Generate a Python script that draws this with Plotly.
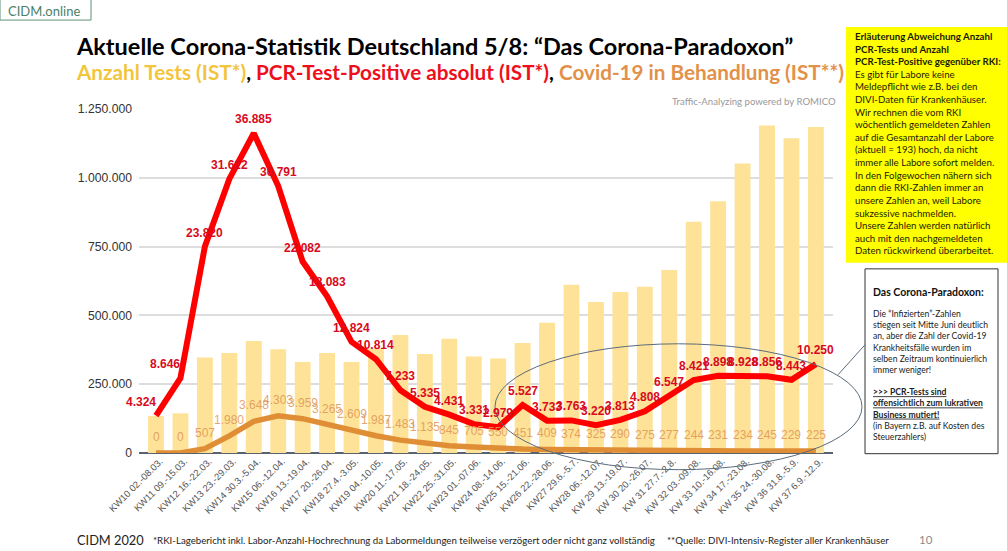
import plotly.graph_objects as go

# Kalenderwochen
weeks = [
    "KW10 02.-08.03.", "KW11 09.-15.03.", "KW12 16.-22.03.", "KW13 23.-29.03.",
    "KW14 30.3.-5.04.", "KW15 06.-12.04.", "KW16 13.-19.04.", "KW17 20.-26.04.",
    "KW18 27.4.-3.05.", "KW19 04.-10.05.", "KW20 11.-17.05.", "KW21 18.-24.05.",
    "KW22 25.-31.05.", "KW23 01.-07.06.", "KW24 08.-14.06.", "KW25 15.-21.06.",
    "KW26 22.-28.06.", "KW27 29.6.-5.7.", "KW28 06.-12.07.", "KW 29 13.-19.07.",
    "KW 30 20.-26.07.", "KW 31 27.7.-2.8.", "KW 32 03.-09.08.", "KW 33 10.-16.08.",
    "KW 34 17.-23.08.", "KW 35 24.-30.08.", "KW 36 31.8.-5.9.", "KW 37 6.9.-12.9.",
]
tests = [
    135000, 144000, 347000, 363000, 407000, 377000, 331000, 363000, 331000, 380000,
    429000, 360000, 415000, 351000, 343000, 400000, 473000, 611000, 549000, 585000,
    604000, 665000, 840000, 915000, 1052000, 1190000, 1144000, 1185000,
]
positive = [
    4324, 8646, 23820, 31622, 36885, 30791, 22082, 18083, 12824, 10814, 7233, 5335,
    4431, 3331, 2979, 5527, 3733, 3763, 3220, 3813, 4808, 6547, 8421, 8898, 8928,
    8856, 8443, 10250,
]
treated = [
    0, 0, 507, 1980, 3648, 4303, 3959, 3265, 2609, 1987, 1483, 1135, 845, 705, 550,
    451, 409, 374, 325, 290, 275, 277, 244, 231, 234, 245, 229, 225,
]
y_ticks = [0, 250000, 500000, 750000, 1000000, 1250000]
y_tick_labels = ["0", "250.000", "500.000", "750.000", "1.000.000", "1.250.000"]

# the two lines share the test axis, drawn at a fixed factor
LINE_FACTOR = 31.5

SANS = "Lato, Carlito, sans-serif"
CHART = "Liberation Sans, Arial, sans-serif"


def dotted(n):
    return f"{n:,}".replace(",", ".")


x = list(range(len(weeks)))

fig = go.Figure()
fig.add_trace(go.Bar(x=x, y=tests, width=0.65, marker=dict(color="#fde298", line_width=0)))
fig.add_trace(go.Scatter(
    x=x, y=[v * LINE_FACTOR for v in treated], mode="lines",
    line=dict(color="#e08e35", width=5.5),
))
fig.add_trace(go.Scatter(
    x=x, y=[v * LINE_FACTOR for v in positive], mode="lines",
    line=dict(color="#ff0000", width=6),
))

annotations = []
for i, v in enumerate(treated):
    annotations.append(dict(
        x=i, y=v * LINE_FACTOR, text=dotted(v), showarrow=False, yshift=16,
        font=dict(family=CHART, size=12, color="rgba(222,150,85,0.85)"),
    ))
for i, v in enumerate(positive):
    annotations.append(dict(
        x=i, y=v * LINE_FACTOR, text=f"<b>{dotted(v)}</b>", showarrow=False, yshift=14,
        xshift=-15 if i < 2 else 0,
        font=dict(family=CHART, size=12, color="#d80a20"),
    ))


def note(px, py, text, size, color="#222222", family=SANS, align="left", anchor="left"):
    annotations.append(dict(
        xref="paper", yref="paper", x=(px - 139) / 694, y=(453.3 - py) / 344.3,
        text=text, showarrow=False, align=align, xanchor=anchor, yanchor="top",
        font=dict(family=family, size=size, color=color), borderpad=0,
    ))


note(75, 31, "<b>Aktuelle Corona-Statistik Deutschland 5/8: “Das Corona-Paradoxon”</b>", 23.5, "#000000")
note(75, 59, "<b><span style='color:#f2c53d'>Anzahl Tests (IST*)</span>, "
     "<span style='color:#ee0f1c'>PCR-Test-Positive absolut (IST*)</span>, "
     "<span style='color:#e2914a'>Covid-19 in Behandlung (IST**)</span></b>", 20.7, "#000000")
note(671, 95, "Traffic-Analyzing powered by ROMICO", 9.6, "#999999")
note(7, 2, "CIDM.online", 13, "#4a8068")
note(76, 531, "CIDM 2020", 12.8, "#222222")
note(152, 533, "*RKI-Lagebericht inkl. Labor-Anzahl-Hochrechnung da Labormeldungen teilweise "
     "verzögert oder nicht ganz vollständig", 9.7, "#222222")
note(666, 533, "**Quelle: DIVI-Intensiv-Register aller Krankenhäuser", 9.7, "#222222")
note(918, 532, "10", 11.5, "#8a8a8a")
note(854, 29, "<b>Erläuterung Abweichung Anzahl<br>PCR-Tests und Anzahl<br>"
     "PCR-Test-Positive gegenüber RKI:</b><br>Es gibt für Labore keine<br>"
     "Meldepflicht wie z.B. bei den<br>DIVI-Daten für Krankenhäuser.<br>"
     "Wir rechnen die vom RKI<br>wöchentlich gemeldeten Zahlen<br>"
     "auf die Gesamtanzahl der Labore<br>(aktuell = 193) hoch, da nicht<br>"
     "immer alle Labore sofort melden.<br>In den Folgewochen nähern sich<br>"
     "dann die RKI-Zahlen immer an<br>unsere Zahlen an, weil Labore<br>"
     "sukzessive nachmelden.<br>Unsere Zahlen werden natürlich<br>"
     "auch mit den nachgemeldeten<br>Daten rückwirkend überarbeitet.", 9.7, "#1a1a00")
note(872, 285, "<b>Das Corona-Paradoxon:</b>", 10.5, "#111111")
note(872, 308, "Die “Infizierten”-Zahlen<br>stiegen seit Mitte Juni deutlich<br>"
     "an, aber die Zahl der Covid-19<br>Krankheitsfälle wurden im<br>"
     "selben Zeitraum kontinuierlich<br>immer weniger!<br><br>"
     "<b><u>&gt;&gt;&gt; PCR-Tests sind</u><br><u>offensichtlich zum lukrativen</u><br>"
     "<u>Business mutiert!</u></b><br>(in Bayern z.B. auf Kosten des<br>Steuerzahlers)",
     8.6, "#222222")


def paper_shape(kind, x0, y0, x1, y1, **kw):
    return dict(
        type=kind, xref="paper", yref="paper",
        x0=(x0 - 139) / 694, x1=(x1 - 139) / 694,
        y0=(453.3 - y0) / 344.3, y1=(453.3 - y1) / 344.3, **kw,
    )


shapes = [
    paper_shape("rect", 846, 27, 1007, 263, fillcolor="#ffff00", line_width=0),
    paper_shape("rect", 865, 269, 998, 454, fillcolor="#ffffff", line=dict(color="#333333", width=1)),
    paper_shape("rect", 0, -2, 91, 20, fillcolor="#ffffff", line=dict(color="#5f9078", width=1)),
    paper_shape("circle", 495, 344, 862, 470, line=dict(color="#5b6b7b", width=1)),
    paper_shape("line", 838, 375, 865, 345, line=dict(color="#5b6b7b", width=1)),
]

fig.update_layout(
    width=1007, height=551,
    margin=dict(l=139, r=174, t=109, b=97.7, pad=0),
    paper_bgcolor="#ffffff", plot_bgcolor="#ffffff",
    showlegend=False, annotations=annotations, shapes=shapes,
    font=dict(family=CHART, color="#333333"),
)
fig.update_xaxes(
    range=[-0.696, 27.7], tickmode="array", tickvals=x, ticktext=weeks, tickangle=-45,
    tickfont=dict(family=CHART, size=9.5, color="#555555"), ticklabelshift=4,
    showgrid=False, zeroline=False, showline=False, ticks="",
)
fig.update_yaxes(
    range=[0, 1250000], tickmode="array", tickvals=y_ticks, ticktext=y_tick_labels,
    tickfont=dict(family=CHART, size=12.2, color="#333333"), ticklabelstandoff=6,
    gridcolor="#dddddd", gridwidth=1.5, zeroline=True, zerolinecolor="#5a6270",
    zerolinewidth=1.5, showline=False, ticks="", ticklen=0, automargin=False,
)

fig.write_html(
    "out.html",
    config={"displayModeBar": False},
    post_script="document.body.style.margin='0';",
)
